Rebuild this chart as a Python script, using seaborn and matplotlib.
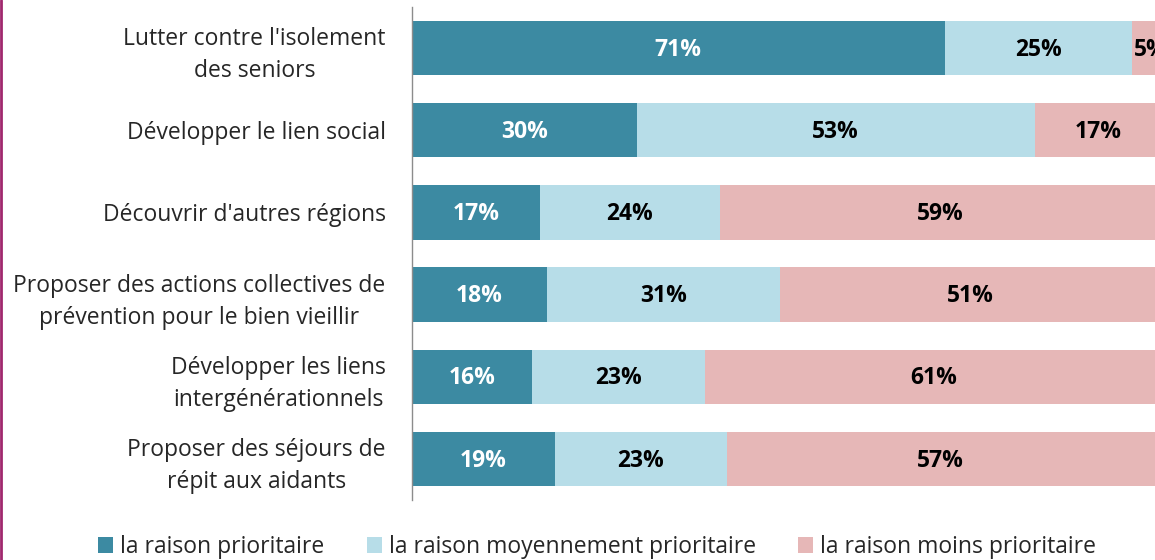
import numpy as np
import pandas as pd
import matplotlib.pyplot as plt
import seaborn as sns
from matplotlib.lines import Line2D
from matplotlib.patches import Patch

# -----------------------------
# DATA
# -----------------------------
categories = [
    "Lutter contre l'isolement\ndes seniors",
    "Développer le lien social",
    "Découvrir d'autres régions",
    "Proposer des actions collectives de\nprévention pour le bien vieillir",
    "Développer les liens\nintergénérationnels",
    "Proposer des séjours de\nrépit aux aidants",
]
prioritaire = [71, 30, 17, 18, 16, 19]
moyennement = [25, 53, 24, 31, 23, 23]
moins = [5, 17, 59, 51, 61, 57]

series_names = [
    "la raison prioritaire",
    "la raison moyennement prioritaire",
    "la raison moins prioritaire",
]
colors = ["#3C8AA2", "#B7DDE8", "#E6B7B7"]

# -----------------------------
# STYLE
# -----------------------------
sns.set_theme(style="white")
plt.rcParams["font.family"] = ["Open Sans", "DejaVu Sans"]

df = pd.DataFrame({
    "Category": categories,
    "p": prioritaire,
    "m": moyennement,
    "l": moins,
})
df["c1"] = df["p"]
df["c2"] = df["p"] + df["m"]
df["c3"] = df["p"] + df["m"] + df["l"]

fig = plt.figure(figsize=(11.55, 5.6), dpi=100)
ax = fig.add_axes([412 / 1155, 1 - 500 / 560, 750 / 1155, 493 / 560])

# stacked bars: draw cumulative totals from back to front
for col, color in zip(["c3", "c2", "c1"], colors[::-1]):
    sns.barplot(data=df, x=col, y="Category", color=color, width=0.66,
                orient="h", ax=ax, saturation=1, edgecolor="none")

# value labels
for i, row in df.iterrows():
    starts = [0, row["c1"], row["c2"]]
    vals = [row["p"], row["m"], row["l"]]
    for j, (s, v) in enumerate(zip(starts, vals)):
        ax.text(s + v / 2, i + 0.02, f"{v}%", ha="center", va="center",
                fontsize=16.5, fontweight="bold",
                color="white" if j == 0 else "black")

ax.set_xlim(0, 100)
ax.set_ylim(5.5, -0.5)
ax.set_xlabel("")
ax.set_ylabel("")
ax.set_xticks([])
ax.tick_params(axis="y", length=0, pad=19, labelsize=16.5)
for lbl in ax.get_yticklabels():
    lbl.set_horizontalalignment("right")
    lbl.set_multialignment("center")
    lbl.set_linespacing(1.45)

for side in ["top", "right", "bottom"]:
    ax.spines[side].set_visible(False)
ax.spines["left"].set_color("#8C8C8C")
ax.spines["left"].set_linewidth(1)

handles = [Patch(facecolor=c, edgecolor="none") for c in colors]
fig.legend(handles, series_names, loc="center", bbox_to_anchor=(0.517, 1 - 547 / 560),
           ncol=3, frameon=False, fontsize=16.5, handlelength=0.65, handleheight=0.65,
           handletextpad=0.3, columnspacing=1.85)

fig.add_artist(Line2D([0.001, 0.001], [0, 1], color="#A0286E", linewidth=2,
                      transform=fig.transFigure))

fig.savefig("out.png", dpi=100)
